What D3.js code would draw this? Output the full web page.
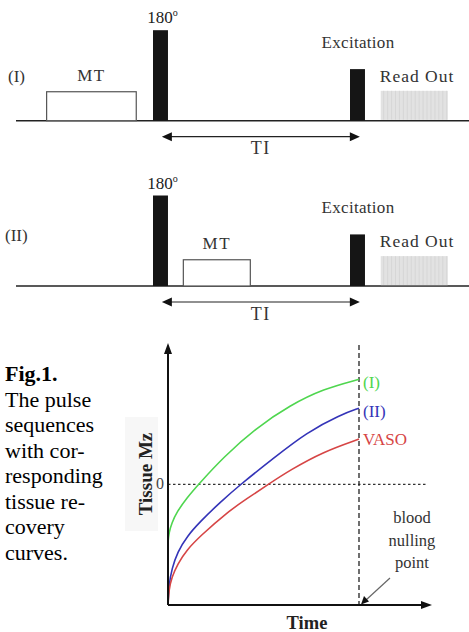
<!DOCTYPE html>
<html>
<head>
<meta charset="utf-8">
<script src="https://cdn.jsdelivr.net/npm/d3@7"></script>
<style>
  body { margin: 0; background: #fff; }
  text { font-family: "Liberation Serif", "Times New Roman", serif; }
</style>
</head>
<body>
<div id="main"></div>
<script>
// ---- pulse sequence data (time in units of TI, 180 pulse at 0, excitation at 1) ----
const seqLabels = ["(I)", "(II)"]
const mtStart = [-0.54, 0.154]
const mtEnd = [-0.085, 0.494]
const mtAmp = [0.32, 0.29]
const pulseTimes = [0, 1]            // 180 inversion, excitation
const pulseAmp = [1, 0.57]
const pulseWidth = 0.076
const readStart = 1.156
const readEnd = 1.496
const readAmp = 0.33

// ---- recovery curve data (t in units of TI, Mz relative, 0 = null) ----
const tI = [0, 0.005, 0.02, 0.046, 0.1, 0.16, 0.29, 0.464, 0.639, 0.813, 1]
const mzI = [-0.486, -0.40, -0.32, -0.23, -0.11, 0, 0.225, 0.47, 0.655, 0.79, 0.87]
const tII = [0, 0.005, 0.02, 0.05, 0.1, 0.168, 0.272, 0.38, 0.551, 0.726, 0.901, 1]
const mzII = [-1, -0.83, -0.70, -0.56, -0.43, -0.31, -0.15, 0, 0.215, 0.43, 0.575, 0.63]
const tV = [0, 0.005, 0.02, 0.05, 0.1, 0.168, 0.307, 0.412, 0.525, 0.639, 0.813, 1]
const mzV = [-1, -0.87, -0.77, -0.66, -0.54, -0.43, -0.235, -0.12, 0, 0.118, 0.27, 0.375]
const curveNames = ["(I)", "(II)", "VASO"]
const curveColors = ["#4fd64f", "#3434b8", "#d64545"]

const captionLines = ["The pulse", "sequences", "with cor-", "responding", "tissue re-", "covery", "curves."]

const width = 469
const height = 632

const svg = d3.select("#main").append("svg")
  .attr("width", width)
  .attr("height", height)

// ================= pulse sequence diagrams =================
const seqX = d3.scaleLinear().domain([0, 1]).range([153, 350])
const baseY = [120.7, 286]

seqLabels.forEach(function(lab, i) {
  const g = svg.append("g")
  const amp = d3.scaleLinear().domain([0, 1]).range([baseY[i], baseY[i] - 90.5])

  // baseline
  g.append("line")
    .attr("x1", 16).attr("x2", width)
    .attr("y1", baseY[i]).attr("y2", baseY[i])
    .attr("stroke", "#222").attr("stroke-width", 1.5)

  // read out block, greyish with faint stripes
  g.append("rect")
    .attr("x", seqX(readStart)).attr("y", amp(readAmp))
    .attr("width", seqX(readEnd) - seqX(readStart))
    .attr("height", amp(0) - amp(readAmp) - 0.8)
    .attr("fill", "#e2e2e2")
  d3.range(readStart + 0.015, readEnd, 0.02).forEach(function(t) {
    g.append("line")
      .attr("x1", seqX(t)).attr("x2", seqX(t))
      .attr("y1", amp(readAmp)).attr("y2", amp(0) - 1)
      .attr("stroke", "#d3d3d3").attr("stroke-width", 0.8)
  })

  // MT block
  g.append("rect")
    .attr("x", seqX(mtStart[i])).attr("y", amp(mtAmp[i]))
    .attr("width", seqX(mtEnd[i]) - seqX(mtStart[i]))
    .attr("height", amp(0) - amp(mtAmp[i]))
    .attr("fill", "#fff").attr("stroke", "#555").attr("stroke-width", 1.2)

  // pulses
  g.selectAll(".pulse")
    .data(d3.zip(pulseTimes, pulseAmp))
    .enter()
    .append("rect")
    .attr("x", function(d) { return seqX(d[0]) })
    .attr("y", function(d) { return amp(d[1]) })
    .attr("width", seqX(pulseWidth) - seqX(0))
    .attr("height", function(d) { return amp(0) - amp(d[1]) })
    .attr("fill", "#151515")

  // labels
  g.append("text")
    .attr("x", i == 0 ? 8 : 5).attr("y", i == 0 ? 82 : 241)
    .attr("font-size", 17).attr("fill", "#333")
    .text(lab)

  const t180 = g.append("text")
    .attr("x", seqX(pulseWidth / 2) + 2).attr("y", amp(1) - 7)
    .attr("text-anchor", "middle")
    .attr("font-size", 17).attr("fill", "#222")
  t180.append("tspan").text("180")
  t180.append("tspan").attr("font-size", 10).attr("dy", -7).text("o")

  g.append("text")
    .attr("x", (seqX(mtStart[i]) + seqX(mtEnd[i])) / 2)
    .attr("y", amp(mtAmp[i]) - 11)
    .attr("text-anchor", "middle")
    .attr("font-size", 17).attr("letter-spacing", 1.5).attr("fill", "#333")
    .text("MT")

  g.append("text")
    .attr("x", 358).attr("y", amp(pulseAmp[1]) - 21)
    .attr("text-anchor", "middle")
    .attr("font-size", 17).attr("letter-spacing", 0.3).attr("fill", "#333")
    .text("Excitation")

  g.append("text")
    .attr("x", 417).attr("y", amp(readAmp) - 9)
    .attr("text-anchor", "middle")
    .attr("font-size", 17.5).attr("letter-spacing", 1).attr("fill", "#333")
    .text("Read Out")

  // TI double arrow
  const ay = baseY[i] + 16
  const x0 = seqX(0.045), x1 = seqX(1.05)
  g.append("line")
    .attr("x1", x0 + 8).attr("x2", x1 - 8)
    .attr("y1", ay).attr("y2", ay)
    .attr("stroke", "#222").attr("stroke-width", 1.2)
  g.append("path")
    .attr("d", "M" + x0 + "," + ay + "l10,-4.5v9z M" + x1 + "," + ay + "l-10,-4.5v9z")
    .attr("fill", "#111")
  g.append("text")
    .attr("x", (x0 + x1) / 2).attr("y", ay + 17.5)
    .attr("text-anchor", "middle")
    .attr("font-size", 18).attr("letter-spacing", 1.5).attr("fill", "#333")
    .text("TI")
})

// ================= recovery curves =================
const x = d3.scaleLinear().domain([0, 1]).range([168, 359])
const y = d3.scaleLinear().domain([-1, 0]).range([605, 484.3])

// faint box behind y label
svg.append("rect")
  .attr("x", 125).attr("y", 417).attr("width", 33).attr("height", 114)
  .attr("fill", "#f7f7f7")

// zero line
svg.append("line")
  .attr("x1", x(0)).attr("x2", x(1.36))
  .attr("y1", y(0)).attr("y2", y(0))
  .attr("stroke", "#333").attr("stroke-width", 1.2)
  .attr("stroke-dasharray", "2.5,2.5")

svg.append("text")
  .attr("x", 160).attr("y", y(0) + 5)
  .attr("text-anchor", "middle")
  .attr("font-size", 16).attr("fill", "#444")
  .text("0")

// blood nulling dashed line
svg.append("line")
  .attr("x1", x(1)).attr("x2", x(1))
  .attr("y1", 345).attr("y2", y(-1))
  .attr("stroke", "#222").attr("stroke-width", 1.3)
  .attr("stroke-dasharray", "5,3")

const line = d3.line()
  .x(function(d) { return x(d[0]) })
  .y(function(d) { return y(d[1]) })
  .curve(d3.curveBasis)

const series = [d3.zip(tI, mzI), d3.zip(tII, mzII), d3.zip(tV, mzV)]
svg.append("g")
  .selectAll("path")
  .data(series)
  .enter()
  .append("path")
  .attr("fill", "none")
  .attr("stroke", function(d, i) { return curveColors[i] })
  .attr("stroke-width", 1.6)
  .attr("d", line)

svg.append("g")
  .selectAll("text")
  .data(series)
  .enter()
  .append("text")
  .attr("x", x(1) + 4)
  .attr("y", function(d, i) { return y(d[d.length - 1][1]) + (curveNames[i][0] == "(" ? 9 : 6) })
  .attr("font-size", 17)
  .attr("fill", function(d, i) { return curveColors[i] })
  .text(function(d, i) { return curveNames[i] })

// axes with arrow heads
svg.append("line")
  .attr("x1", x(0)).attr("x2", x(0))
  .attr("y1", y(-1)).attr("y2", 350)
  .attr("stroke", "#111").attr("stroke-width", 2)
svg.append("line")
  .attr("x1", x(0)).attr("x2", 424)
  .attr("y1", y(-1)).attr("y2", y(-1))
  .attr("stroke", "#111").attr("stroke-width", 2)
svg.append("path")
  .attr("d", "M" + x(0) + ",343l-4,11h8z M432," + y(-1) + "l-11,-4v8z")
  .attr("fill", "#111")

// blood nulling point note
svg.append("line")
  .attr("x1", 390).attr("y1", 578).attr("x2", 366).attr("y2", 600)
  .attr("stroke", "#666").attr("stroke-width", 1.2)
svg.append("path")
  .attr("d", "M361,604.5l3,-8.5l5,5.5z")
  .attr("fill", "#111")
svg.append("g")
  .selectAll("text")
  .data(["blood", "nulling", "point"])
  .enter()
  .append("text")
  .attr("x", 412)
  .attr("y", function(d, i) { return 523 + i * 22.5 })
  .attr("text-anchor", "middle")
  .attr("font-size", 16.5).attr("fill", "#333")
  .text(function(d) { return d })

svg.append("text")
  .attr("transform", "translate(151.5," + 474 + ") rotate(-90)")
  .attr("text-anchor", "middle")
  .attr("font-size", 19).attr("font-weight", "bold").attr("fill", "#222")
  .text("Tissue Mz")

svg.append("text")
  .attr("x", 307).attr("y", 629)
  .attr("text-anchor", "middle")
  .attr("font-size", 18.5).attr("font-weight", "bold").attr("fill", "#222")
  .text("Time")

// caption
svg.append("text")
  .attr("x", 5).attr("y", 381)
  .attr("font-size", 22).attr("font-weight", "bold").attr("fill", "#000")
  .text("Fig.1.")
svg.append("g")
  .selectAll("text")
  .data(captionLines)
  .enter()
  .append("text")
  .attr("x", 5)
  .attr("y", function(d, i) { return 406.5 + i * 25.5 })
  .attr("font-size", 22).attr("fill", "#000")
  .text(function(d) { return d })
</script>
</body>
</html>
